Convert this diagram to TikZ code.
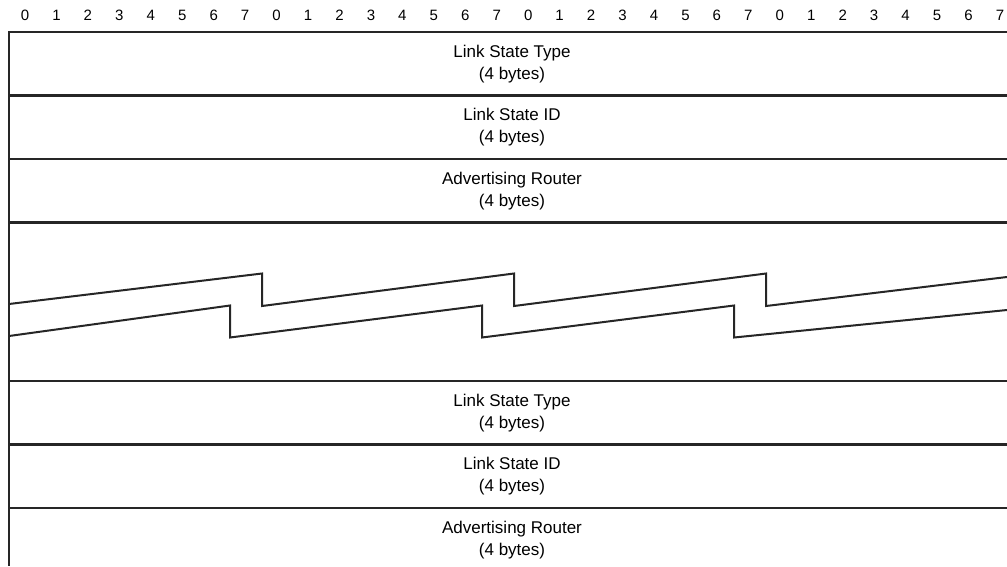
\documentclass[tikz,border=0pt]{standalone}
\usepackage{fontspec}
\setmainfont{Liberation Sans}
\usetikzlibrary{positioning}
\tikzset{
	% packet layout styles
	rule/.style    ={line width=2.2pt, draw=black!85},
	field/.style   ={align=center, font=\fontsize{17}{22}\selectfont, inner sep=0pt},
	bitnum/.style  ={font=\fontsize{15}{17}\selectfont, inner sep=0pt},
	% break symbol between the two entries
	breakline/.style={line width=2pt, draw=black!85, line join=miter},
}

\begin{document}
\begin{tikzpicture}[x=1pt, y=-1pt]
	\useasboundingbox (0,0) rectangle (1007,566);
	% bit numbers
	\foreach \i in {0,...,31} {
		\pgfmathtruncatemacro{\bitval}{mod(\i,8)}
		\node[bitnum] (bit\i) at ({25+31.45*\i},15) {\bitval};
	}
	% frame and field borders
	\draw[rule] (1007,32) -- (9,32) -- (9,566);
	\foreach \y in {95.5,159,222.5,381,444.5,508} \draw[rule] (9,\y) -- (1007,\y);
	% fields
	\node[field] (type1) at (512,64)    {Link State Type\\(4 bytes)};
	\node[field] (id1)   at (512,127.5) {Link State ID\\(4 bytes)};
	\node[field] (rtr1)  at (512,191)   {Advertising Router\\(4 bytes)};
	\node[field] (type2) at (512,413)   {Link State Type\\(4 bytes)};
	\node[field] (id2)   at (512,476.5) {Link State ID\\(4 bytes)};
	\node[field] (rtr2)  at (512,540)   {Advertising Router\\(4 bytes)};
	% break
	\draw[breakline] (9,304) foreach \x in {262,514,766} { -- (\x,273.5) -- (\x,306) } -- (1007,277);
	\draw[breakline] (9,336) foreach \x in {230,482,734} { -- (\x,305.5) -- (\x,337.5) } -- (1007,310);
\end{tikzpicture}
\end{document}
